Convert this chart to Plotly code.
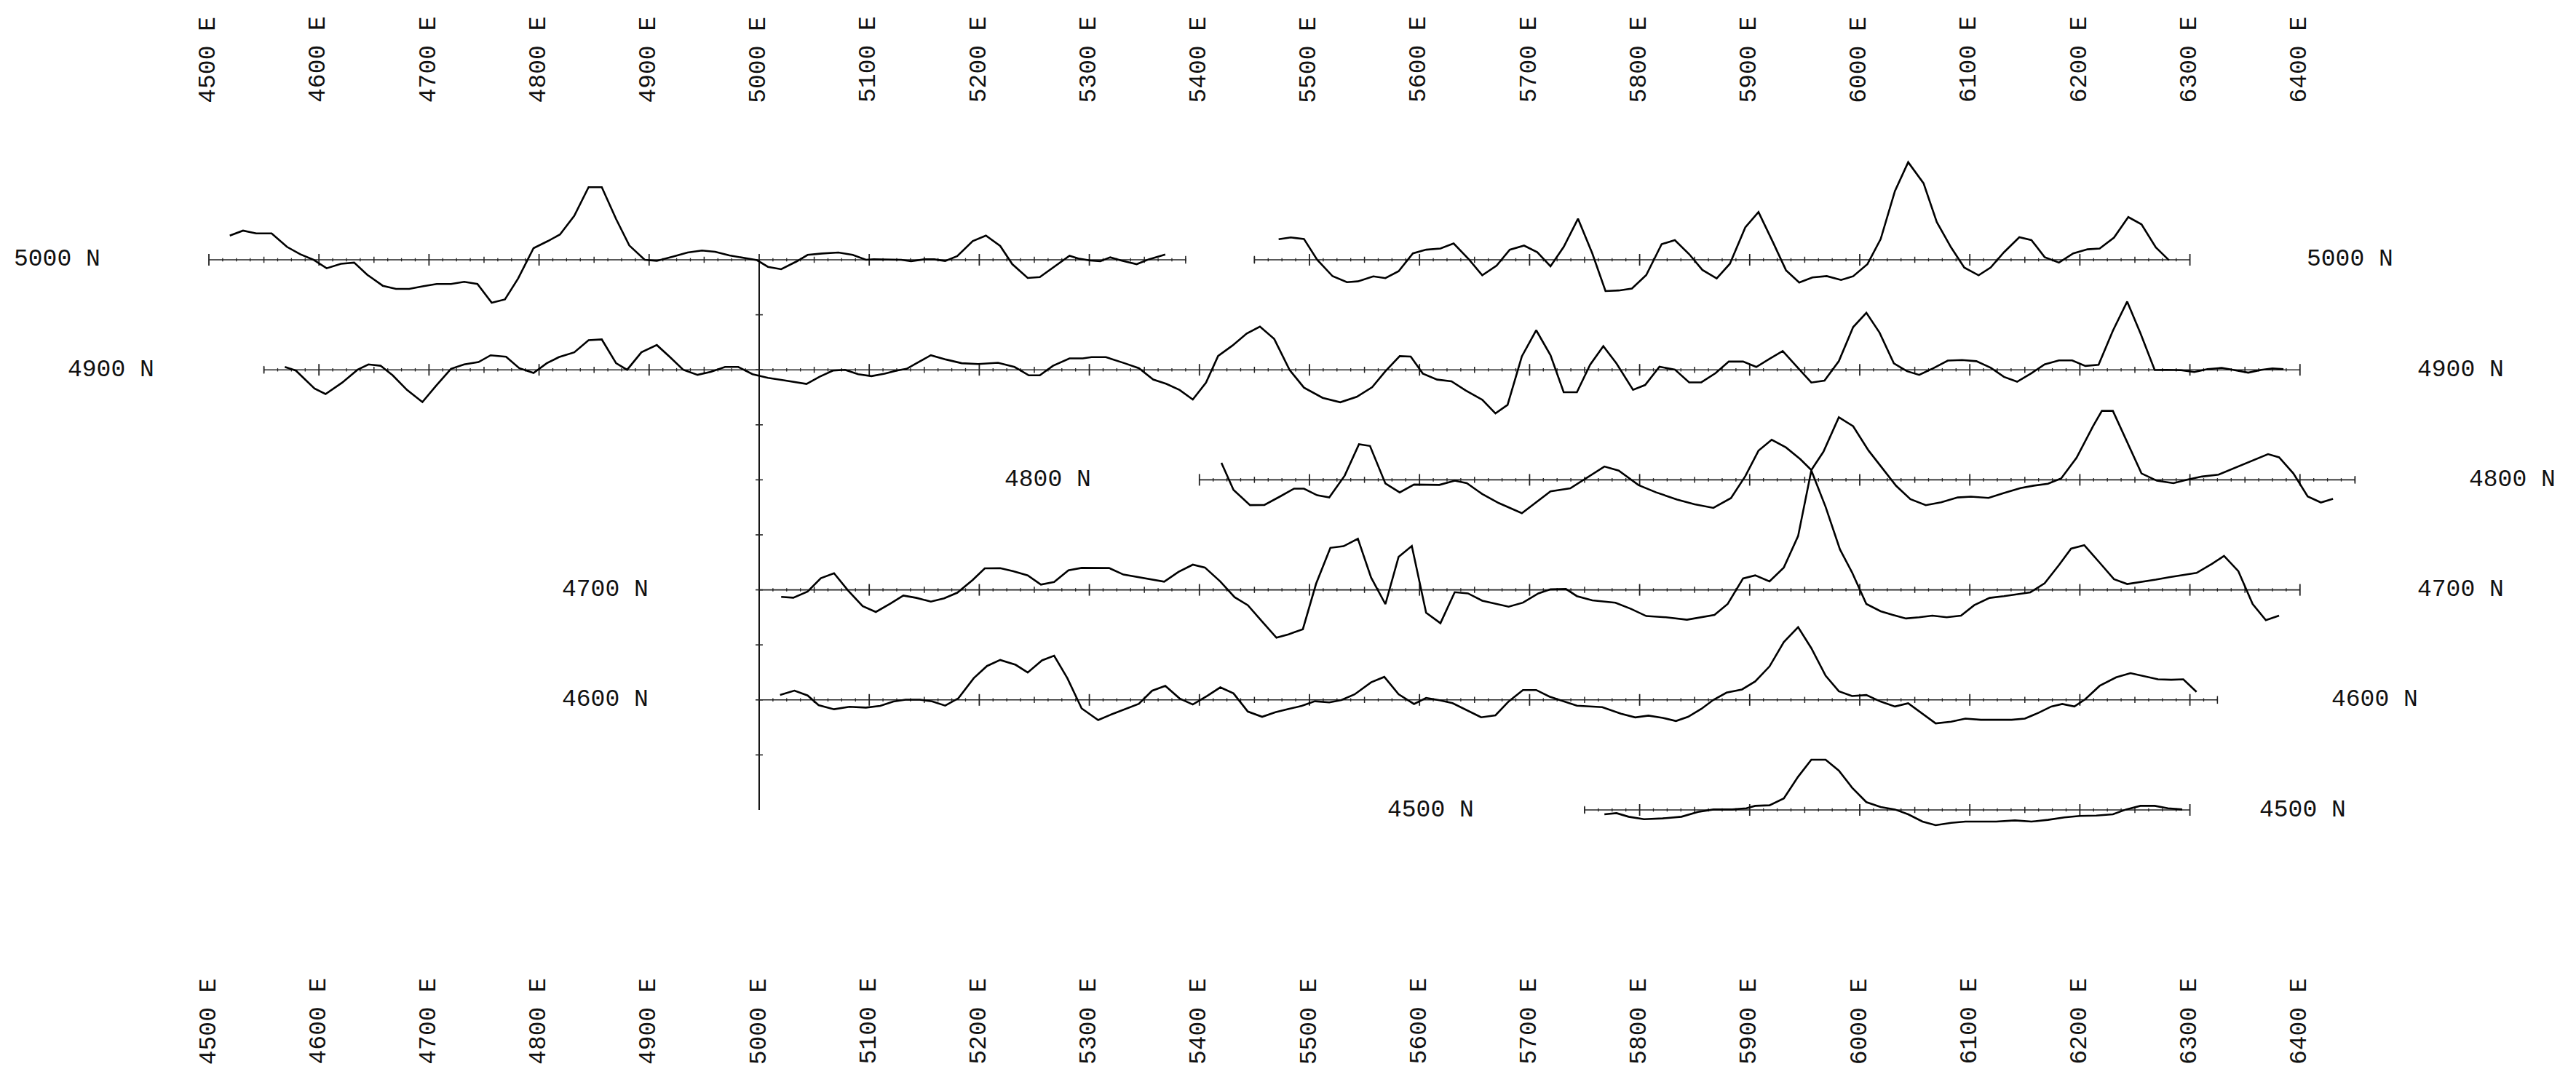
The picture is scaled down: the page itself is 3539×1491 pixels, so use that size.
import numpy as np
import plotly.graph_objects as go

# ---------------- data (E station, anomaly in plot units) ----------------
E_TICK_LABELS = list(range(4500, 6500, 100))

P5000_WEST = [(4519,22),(4531,26.5),(4543,24),(4557,24),(4571,11.7),(4583,5),(4595,0),(4607,-7.7),
 (4620,-3.7),(4632,-2.6),(4644,-13.7),(4658,-23.6),(4670,-26.5),(4682,-26.5),(4695,-24),(4707,-22),
 (4720,-22),(4732,-20),(4744,-22),(4757,-39),(4769,-36),(4781,-17),(4795,10.6),(4808,17),(4819,23),
 (4832,40),(4845,66),(4857,66),(4870,37),(4882,13),(4896,0),(4907,-1),(4922,3),(4935,6.6),(4948,8.4),
 (4960,7.3),(4973,4),(4986,1.8),(4998,-0.4),(5008,-6.4),(5020,-8.6),(5034,-1.5),(5044,4.4),(5057,5.7),
 (5072,6.6),(5085,4.4),(5097,0),(5104,0.4),(5117,0.4),(5129,0),(5138,-1.3),(5150,0.4),(5159,0.4),
 (5169,-1.1),(5180,3.3),(5194,17),(5206,22),(5219,12.6),(5230,-4),(5244,-16.5),(5255,-15.7),(5270,-5),
 (5282,3.7),(5291,0.9),(5301,-0.7),(5310,-1.3),(5319,2.2),(5329,-0.7),(5343,-4),(5354,0.4),(5369,4.8)]

P5000_EAST = [(5472,18.7),(5483,20.3),(5495,18.9),(5507,0),(5521,-14.9),(5534,-20.3),(5544,-19.6),
 (5558,-15.1),(5569,-16.7),(5581,-10.4),(5594,5.8),(5606,9.2),(5619,10.2),(5631,14.8),(5645,0.2),
 (5657,-14.1),(5670,-5.3),(5682,9.1),(5695,12.9),(5707,6.9),(5719,-5.9),(5731,11.7),(5744,37.3),
 (5757,5.8),(5769,-28.4),(5781,-27.9),(5793,-26.1),(5806,-13.9),(5820,14.2),(5832,17.8),(5845,5.1),
 (5857,-9.2),(5870,-16.9),(5882,-3.6),(5896,29.5),(5908,43.4),(5921,16.3),(5933,-9.5),(5945,-20.7),
 (5957,-16),(5970,-14.8),(5983,-18.3),(5994,-15),(6007,-3.9),(6019,18.8),(6032,62.5),(6044,88.7),
 (6058,69.5),(6070,34.3),(6083,11.2),(6095,-7.1),(6108,-14.1),(6119,-7),(6131,6.8),(6145,20.5),
 (6156,17.9),(6168,2.4),(6181,-2.6),(6194,5.8),(6207,9.5),(6218,10.2),(6231,20.1),(6244,38.8),
 (6256,32.2),(6269,11.2),(6281,-0.4)]

P4900 = [(4569,2.6),(4579,-0.7),(4596,-17),(4606,-22),(4621,-11.7),(4635,0),(4645,4.9),(4656,3.7),
 (4667,-5),(4680,-18.3),(4694,-29.3),(4706,-15),(4720,0.9),(4732,4.9),(4745,7),(4756,13.2),(4770,11.9),
 (4782,1.5),(4795,-2.9),(4807,6),(4818,11.5),(4832,15.9),(4845,26.9),(4857,27.6),(4870,6),(4880,0),
 (4893,15.9),(4907,22.5),(4919,11.5),(4931,0),(4944,-4.6),(4956,-1.8),(4969,2.6),(4981,2.6),(4994,-4),
 (5008,-7.3),(5022,-9.5),(5043,-12.8),(5055,-6.2),(5067,-0.7),(5078,0),(5090,-4),(5102,-5.7),
 (5114,-3.5),(5125,-0.7),(5134,0.9),(5143,6),(5156,13.2),(5170,9.3),(5184,6),(5199,5.3),(5217,6.4),
 (5232,2.6),(5245,-5),(5255,-5),(5267,3.7),(5282,10.4),(5294,10.4),(5302,11.5),(5315,11.5),(5332,6),
 (5345,1.5),(5358,-8.8),(5370,-12.8),(5382,-18.3),(5394,-27),(5406,-11.7),(5417,12.6),(5430,22),
 (5443,33),(5455,39.3),(5468,28),(5482,-0.2),(5495,-16.2),(5512,-25.5),(5528,-29.5),(5543,-24.5),
 (5557,-15.8),(5569,-1.3),(5582,12.4),(5592,12),(5603,-3.4),(5616,-8.9),(5629,-10.4),(5642,-18.8),
 (5657,-27.2),(5669,-39.6),(5680,-31.9),(5693,12.2),(5706,36),(5719,13.3),(5731,-20.4),(5743,-20.4),
 (5755,4.6),(5767,21.5),(5779,5.7),(5794,-18.2),(5805,-13.8),(5818,2.8),(5832,0.2),(5845,-11.4),
 (5856,-11.4),(5869,-3),(5881,7.5),(5894,7.6),(5906,2.6),(5918,9.9),(5930,17),(5943,2.7),(5956,-11.6),
 (5968,-9.8),(5981,7.9),(5994,38.8),(6006,51.8),(6018,33.8),(6031,5.9),(6043,-1.3),(6054,-4.6),
 (6067,1.5),(6080,8.4),(6093,8.9),(6106,7.8),(6119,1.9),(6131,-6.4),(6143,-10.8),(6156,-3.1),(6168,5),
 (6181,8.6),(6193,8.6),(6205,3.5),(6217,4.6),(6230,35.5),(6243,62),(6255,33.4),(6268,-0.2),(6279,0),
 (6292,-0.4),(6304,-2),(6316,0.6),(6329,1.8),(6341,-0.4),(6353,-2.6),(6365,0),(6375,1.3),(6385,0.6)]

P4800 = [(5420,15.5),(5431,-9.2),(5446,-23),(5459,-22.8),(5473,-15.3),(5486,-8),(5495,-8),(5507,-14),
 (5518,-16),(5532,3.8),(5545,32.4),(5555,30.8),(5569,-3.3),(5582,-11.4),(5595,-4.3),(5607,-4.2),
 (5618,-4.6),(5632,-0.8),(5643,-3),(5657,-12.9),(5672,-21.1),(5693,-30.3),(5706,-20.4),(5719,-10.4),
 (5737,-7.7),(5753,2.8),(5768,12.1),(5781,8.4),(5799,-4.8),(5815,-11.4),(5834,-17.9),(5850,-22.2),
 (5867,-25.5),(5883,-16.6),(5896,3.3),(5908,26.5),(5920,36.4),(5933,29.4),(5946,18.8),(5956,8.9),
 (5967,25.5),(5981,56.8),(5994,48.7),(6008,26.6),(6021,10.1),(6033,-5.4),(6046,-17.5),(6060,-23),
 (6074,-20.4),(6089,-16),(6101,-15.3),(6117,-16.4),(6131,-12),(6146,-7.5),(6158,-5.3),(6171,-3.5),
 (6183,1.3),(6197,20.1),(6212,48.8),(6220,62.7),(6230,62.7),(6244,32.3),(6256,5.8),(6270,-0.8),
 (6285,-3),(6298,0.3),(6311,3),(6326,4.7),(6342,11.3),(6356,17.2),(6371,23.4),(6381,20.5),(6394,5.8),
 (6407,-15.1),(6419,-20.6),(6430,-17.3)]

P4700 = [(5020,-6.4),(5031,-7.1),(5044,-1.6),(5056,10.6),(5068,15.1),(5081,-0.8),(5094,-14.7),
 (5106,-20.1),(5119,-12.6),(5131,-5.2),(5143,-7.3),(5156,-10.7),(5168,-7.7),(5180,-2.6),(5194,9),
 (5205,19.6),(5219,19.7),(5231,16.9),(5244,13.2),(5256,4.8),(5268,7.1),(5281,17.7),(5293,20),(5306,20),
 (5318,19.8),(5331,13.9),(5345,11.3),(5357,9.1),(5368,7.4),(5381,16.3),(5394,22.9),(5405,20.3),
 (5419,7.6),(5432,-6.7),(5444,-14),(5457,-28.8),(5470,-43.5),(5481,-40.4),(5494,-35.8),(5506,5.5),
 (5519,38.2),(5531,39.7),(5544,46.4),(5556,11.2),(5569,-13),(5581,30),(5593,39.9),(5606,-20.8),
 (5619,-30.3),(5632,-2.1),(5644,-3.2),(5657,-9.8),(5670,-12.7),(5681,-15.3),(5694,-11.6),(5708,-3.2),
 (5719,0.5),(5733,0.8),(5743,-5.7),(5757,-9.5),(5778,-11.7),(5792,-17.2),(5806,-23.8),(5824,-24.9),
 (5843,-27.1),(5856,-24.9),(5868,-22.7),(5880,-12.8),(5894,10.4),(5905,13.2),(5918,7.7),(5931,20.3),
 (5944,48.9),(5956,108.5),(5969,75.4),(5982,36.8),(5993,15.9),(6006,-12.8),(6019,-19.4),(6030,-22.7),
 (6042,-26),(6054,-24.9),(6066,-23.4),(6079,-24.9),(6092,-23.4),(6104,-13.9),(6118,-7.3),(6131,-5.7),
 (6144,-4),(6155,-2.2),(6168,6),(6181,22.5),(6192,37.5),(6204,40.6),(6218,24.7),(6231,9.7),(6243,5.3),
 (6256,7.1),(6269,9.3),(6281,11.5),(6294,13.7),(6306,15.4),(6320,23.6),(6331,30.9),(6344,17),
 (6357,-12.8),(6369,-27.6),(6381,-23.4)]

P4600 = [(5019,4.5),(5032,8.4),(5044,4),(5054,-4.8),(5068,-8.5),(5082,-6.3),(5097,-7),(5110,-5.4),
 (5122,-1.5),(5133,0.2),(5146,0.2),(5157,-1.3),(5169,-5.2),(5181,1.5),(5195,19.8),(5207,30.8),
 (5219,36.3),(5233,31.9),(5244,24.9),(5257,35.9),(5268,40.1),(5280,19.8),(5293,-7.7),(5308,-18.3),
 (5320,-13.2),(5333,-8.1),(5345,-3.6),(5357,8.3),(5369,12.7),(5382,1.3),(5394,-4.2),(5407,3.6),
 (5419,11.4),(5431,5.9),(5444,-10.6),(5457,-15.4),(5469,-11.2),(5481,-8.3),(5493,-5.4),(5505,-1.2),
 (5518,-2.3),(5529,-0.1),(5541,5),(5556,16),(5568,20.9),(5581,5.1),(5595,-3.7),(5606,1.8),(5619,-0.4),
 (5630,-3),(5643,-9.2),(5656,-15.8),(5669,-14),(5681,-1.4),(5694,9),(5706,9),(5718,3),(5732,-1.4),
 (5743,-5.3),(5766,-6.6),(5783,-12.6),(5796,-15.9),(5808,-14.3),(5821,-16.3),(5833,-19.2),(5844,-15.4),
 (5856,-8.2),(5867,0),(5879,6.6),(5893,9.5),(5905,16.8),(5918,30.4),(5931,52.5),(5944,66.1),(5956,47),
 (5969,22),(5981,7.9),(5993,3.5),(6006,4.4),(6019,-1.5),(6032,-6),(6044,-3.1),(6057,-12.6),(6069,-21.4),
 (6083,-19.8),(6096,-17),(6110,-18.1),(6122,-18.1),(6138,-18.1),(6150,-17),(6163,-11.5),(6174,-6),
 (6184,-3.7),(6195,-6),(6205,0.7),(6218,12.8),(6233,20.5),(6246,24.3),(6258,21.6),(6271,18.7),
 (6283,18.3),(6294,18.7),(6306,7.3)]

P4500 = [(5768,-4),(5779,-2.9),(5790,-6.2),(5804,-8.4),(5821,-7.7),(5838,-6.2),(5853,-1.8),(5867,0.4),
 (5884,0.4),(5897,1.5),(5905,3.7),(5918,4.2),(5931,10.4),(5944,30.2),(5956,45.6),(5969,45.6),
 (5981,35.7),(5993,20.3),(6006,7.1),(6019,2.6),(6032,0.4),(6044,-4),(6057,-10.6),(6069,-13.9),
 (6083,-11.7),(6096,-10.6),(6110,-10.6),(6124,-10.6),(6141,-9.5),(6156,-10.6),(6171,-9),(6186,-6.8),
 (6200,-5.5),(6215,-5.1),(6230,-4),(6242,0.4),(6255,3.7),(6268,3.7),(6280,1.5),(6293,0.4)]

PROFILES = [(5000, P5000_WEST), (5000, P5000_EAST), (4900, P4900), (4800, P4800),
            (4700, P4700), (4600, P4600), (4500, P4500)]

# survey lines: (northing, start E, end E)
LINES = [(5000, 4500, 5387.5), (5000, 5450, 6300), (4900, 4550, 6400), (4800, 5400, 6450),
         (4700, 5000, 6400), (4600, 5000, 6325), (4500, 5750, 6300)]

# line labels: (northing, left label right edge E, right label left edge E)
LINE_LABELS = [(5000, 4403, 6405), (4900, 4452, 6505), (4800, 5303, 6552),
               (4700, 4901, 6505), (4600, 4901, 6427), (4500, 5651, 6362)]

BASE_E = 5000          # tie line easting
TIE_N = (4500, 5000)   # tie line extent

# ---------------- figure ----------------
X_RANGE = [4310.2, 6650.8]
Y_RANGE = [4250.0, 5236.1]
FONT = dict(family="Liberation Mono, DejaVu Sans Mono, monospace", size=33, color="#111")

fig = go.Figure()

# baselines
for n, e0, e1 in LINES:
    fig.add_trace(go.Scatter(x=[e0, e1], y=[n, n], mode="lines",
                             line=dict(color="#222", width=1.6), hoverinfo="skip"))

# baseline ticks
def tick_trace(xs_ys, width):
    xs, ys = [], []
    for (x0, y0, x1, y1) in xs_ys:
        xs += [x0, x1, None]
        ys += [y0, y1, None]
    return go.Scatter(x=xs, y=ys, mode="lines", line=dict(color="#222", width=width),
                      hoverinfo="skip")

major, medium, small = [], [], []
for n, e0, e1 in LINES:
    for e in np.arange(e0, e1 + 0.01, 12.5):
        if abs(e % 100) < 1e-6:
            major.append((e, n - 5.3, e, n + 5.3))
        elif abs(e % 50) < 1e-6:
            medium.append((e, n - 2.8, e, n + 2.8))
        else:
            small.append((e, n - 1.5, e, n + 1.5))
    for e in (e0, e1):
        if abs(e % 100) > 1e-6:
            medium.append((e, n - 3.5, e, n + 3.5))
fig.add_trace(tick_trace(major, 1.8))
fig.add_trace(tick_trace(medium, 1.5))
fig.add_trace(tick_trace(small, 1.3))

# tie line with ticks
fig.add_trace(go.Scatter(x=[BASE_E, BASE_E], y=list(TIE_N), mode="lines",
                         line=dict(color="#111", width=2), hoverinfo="skip"))
tie_ticks = [(BASE_E - 3.3, n, BASE_E + 3.3, n) for n in range(TIE_N[0] + 50, TIE_N[1], 50)]
fig.add_trace(tick_trace(tie_ticks, 1.6))

# profiles
for n, prof in PROFILES:
    xs = [p[0] for p in prof]
    ys = [n + p[1] for p in prof]
    fig.add_trace(go.Scatter(x=xs, y=ys, mode="lines",
                             line=dict(color="#000", width=2.6), hoverinfo="skip"))

# easting labels top and bottom
for e in E_TICK_LABELS:
    for yy in (5182, 4308):
        fig.add_annotation(x=e, y=yy, text=f"{e} E", showarrow=False, textangle=-90,
                           xanchor="center", yanchor="middle", font=FONT)

# northing labels
for n, el, er in LINE_LABELS:
    fig.add_annotation(x=el, y=n, text=f"{n} N", showarrow=False, xanchor="right",
                       yanchor="middle", font=FONT)
    fig.add_annotation(x=er, y=n, text=f"{n} N", showarrow=False, xanchor="left",
                       yanchor="middle", font=FONT)

fig.update_layout(width=3539, height=1491, margin=dict(l=0, r=0, t=0, b=0),
                  paper_bgcolor="white", plot_bgcolor="white", showlegend=False,
                  xaxis=dict(range=X_RANGE, visible=False, fixedrange=True),
                  yaxis=dict(range=Y_RANGE, visible=False, fixedrange=True))

fig.write_html("out.html", config={"displayModeBar": False},
               post_script="document.body.style.margin='0';")
